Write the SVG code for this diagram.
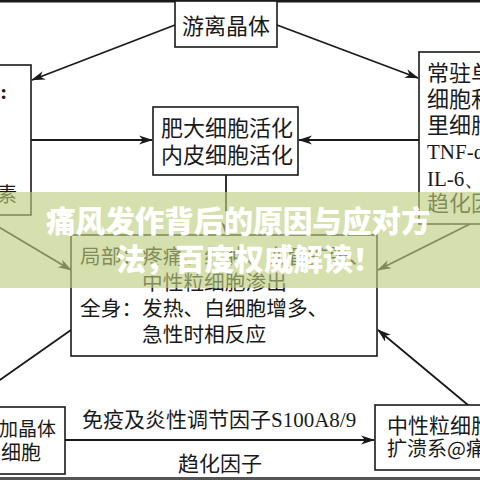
<svg xmlns="http://www.w3.org/2000/svg" width="480" height="480" viewBox="0 0 480 480">
<style>
.box{fill:#fff;stroke:#1a1a1a;stroke-width:1.6}
.ln{fill:none;stroke:#1a1a1a;stroke-width:1.8}
.t{font-family:"Noto Sans CJK SC","Noto Sans CJK JP",sans-serif;fill:#1a1a1a}
.s{font-family:"Liberation Serif",serif;fill:#1a1a1a}
.ban{font-family:"Noto Sans CJK SC",sans-serif;font-weight:900;fill:#fff;font-size:29.6px}
</style>
<defs>
<marker id="ah" markerWidth="14" markerHeight="10" refX="13" refY="5" orient="auto" markerUnits="userSpaceOnUse">
<path d="M0,0.5 L14,5 L0,9.5 L4,5 z" fill="#1a1a1a"/>
</marker>
</defs>
<rect width="480" height="480" fill="#fff"/>
<line x1="0" y1="1" x2="480" y2="1" stroke="#1a1a1a" stroke-width="3"/>
<line x1="0" y1="478.5" x2="480" y2="478.5" stroke="#555" stroke-width="3"/>

<g id="connectors">
<line class="ln" x1="175" y1="25" x2="32" y2="80" marker-end="url(#ah)"/>
<line class="ln" x1="277" y1="25" x2="418" y2="78" marker-end="url(#ah)"/>
<line class="ln" x1="31" y1="140" x2="152" y2="140" marker-end="url(#ah)"/>
<line class="ln" x1="419" y1="140" x2="299" y2="140" marker-end="url(#ah)"/>
<line class="ln" x1="226" y1="175" x2="226" y2="235" marker-end="url(#ah)"/>
<line class="ln" x1="-8" y1="223" x2="71" y2="270" marker-end="url(#ah)"/>
<line class="ln" x1="470" y1="224" x2="378" y2="270" marker-end="url(#ah)"/>
<line class="ln" x1="468" y1="405" x2="378" y2="330" marker-end="url(#ah)"/>
<line class="ln" x1="71" y1="330" x2="-10" y2="387"/>
<line class="ln" x1="65" y1="440" x2="374" y2="440" marker-end="url(#ah)"/>
<text class="t" x="82" y="427" font-size="21">免疫及炎性调节因子<tspan class="s" font-size="21">S100A8/9</tspan></text>
<text class="t" x="220" y="471" font-size="21" text-anchor="middle">趋化因子</text>
</g>

<g id="node-crystal">
<rect class="box" x="175" y="1" width="102" height="46"/>
<text class="t" x="226" y="34" font-size="22" text-anchor="middle">游离晶体</text>
</g>

<g id="node-left">
<rect class="box" x="-10" y="65" width="41" height="150"/>
<text class="s" x="0" y="99" font-size="22" font-weight="bold">:</text>
<text class="t" x="-3" y="202" font-size="20">素</text>
</g>

<g id="node-mast">
<rect class="box" x="153" y="107" width="145" height="68"/>
<text class="t" x="161" y="136" font-size="22">肥大细胞活化</text>
<text class="t" x="161" y="163" font-size="22">内皮细胞活化</text>
</g>

<g id="node-right">
<rect class="box" x="419" y="52" width="70" height="172"/>
<text class="t" x="427" y="81" font-size="22">常驻单核</text>
<text class="t" x="427" y="107" font-size="22">细胞和巨</text>
<text class="t" x="427" y="133" font-size="22">里细胞</text>
<text class="s" x="427" y="159" font-size="21">TNF-α</text>
<text class="s" x="427" y="186" font-size="21">IL-6、</text>
<text class="t" x="427" y="211" font-size="22">趋化因子</text>
</g>

<g id="node-symptoms">
<rect class="box" x="71" y="235" width="306" height="121"/>
<text class="t" x="80" y="264" font-size="20.7">局部：疼痛、红肿、血管扩张、</text>
<text class="t" x="142" y="290" font-size="20.7">中性粒细胞渗出</text>
<text class="t" x="80" y="316" font-size="20.7">全身：发热、白细胞增多、</text>
<text class="t" x="142" y="342" font-size="20.7">急性时相反应</text>
</g>

<g id="node-bottom-left">
<rect class="box" x="-10" y="407" width="75" height="67"/>
<text class="t" x="-1" y="436" font-size="19">加晶体</text>
<text class="t" x="1" y="460" font-size="20">细胞</text>
</g>

<g id="node-neutrophil">
<rect class="box" x="375" y="405" width="115" height="65"/>
<text class="t" x="387" y="433" font-size="21">中性粒细胞</text>
<text class="t" x="387" y="456" font-size="20">扩溃系@痛</text>
</g>

<g id="banner">
<rect x="0" y="192" width="480" height="96" fill="rgb(190,206,127)" fill-opacity="0.63"/>
<text class="ban" x="46" y="232">痛风发作背后的原因与应对方</text>
<text class="ban" x="116" y="270">法，百度权威解读！</text>
</g>
</svg>
